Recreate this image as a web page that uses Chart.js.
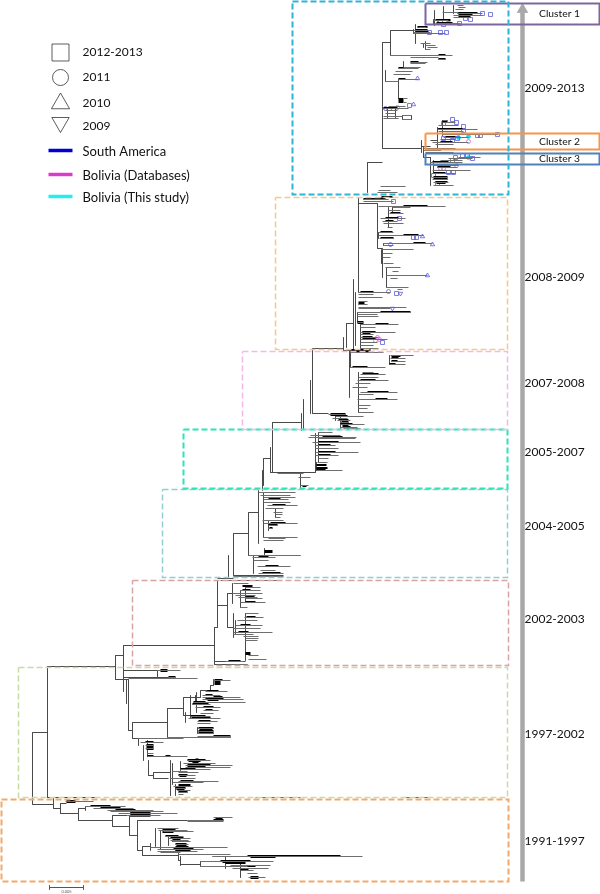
<!DOCTYPE html>
<html>
<head>
<meta charset="utf-8">
<script src="https://cdn.jsdelivr.net/npm/chart.js@4"></script>
<style>
  html, body { margin: 0; padding: 0; background: #fff; }
  canvas { display: block; }
</style>
</head>
<body>
<canvas id="treeChart" width="600" height="894"></canvas>
<script>
// period boxes: x1, y1, x2, y2
var periodNames = ['2009-2013', '2008-2009', '2007-2008', '2005-2007', '2004-2005', '2002-2003', '1997-2002', '1991-1997'];
var periodBoxes = [[292,1,508,194],[275,197,507,349],[242,351,507,429],[183,429,507,488],[162,489,507,577],[132,580,508,665],[18,667,507,797],[1,799,508,881]];
var periodLabelY = [88, 277, 383, 452, 526, 619, 734, 841];
var periodColors = ['#2fb4d6', '#f6ca84', '#f4b8ea', '#2fe3b4', '#93cdd3', '#d9a3a3', '#c8dca6', '#f2aa6c'];

var clusterNames = ['Cluster 1', 'Cluster 2', 'Cluster 3'];
var clusterBoxes = [[425,3,599,24],[425,133,599,149],[425,153,599,164]];
var clusterColors = ['#8064a2', '#f79646', '#4f81bd'];

var legendYears = ['2012-2013', '2011', '2010', '2009'];
var legendYearY = [52, 77, 103, 126];
var legendMarkY = [52, 77, 103, 122];
var legendRegions = ['South America', 'Bolivia (Databases)', 'Bolivia (This study)'];
var legendRegionY = [150, 174, 196];
var legendRegionColors = ['#0000d0', '#d93cc8', '#20f0f0'];

// tree stems, horizontal [y,x1,x2] and vertical [x,y1,y2]
var stemsH = [
  [732,32,47],[804,32,53],[808,53,60],[803,60,66],[813,60,78],[808,78,85],[820,78,112],[815,112,127],[826,112,129],[816,129,150],
  [835,129,137],[820,137,187],[850,137,142],[846,142,150],[855,142,178],[860,178,180],[856,212,247],[864,180,200],[666,47,115],[655,115,123],
  [679,115,128],[645,123,214],[670,123,157],[677,123,168],[730,128,132],[722,132,167],[708,167,183],[697,183,190],[715,183,190],[690,200,210],
  [685,210,213],[697,190,200],[738,132,138],[775,148,153],[772,153,170],[778,153,168],[627,214,217],[605,217,227],[593,227,232],[627,227,233],
  [664,214,247],[661,214,245],[578,217,233],[575,233,283],[533,233,248],[512,248,258],[555,248,300],[422,272,301],[472,270,315],[458,263,270],
  [413,312,328],[348,312,343],[323,346,353],[350,343,354],[203,358,377],[248,377,382],[162,367,382],[42,382,390],[30,390,413],[148,382,421],
  [157,423,430],[797,47,95],[146,421,430],[140,430,437],[128,437,442]
];
var stemsV = [
  [32,732,804],[47,666,797],[53,798,808],[60,803,813],[78,808,820],[85,806,810],[112,815,826],[129,816,835],[137,820,850],[142,846,855],
  [150,843,850],[155,828,846],[178,853,860],[180,856,865],[200,861,866],[115,655,679],[123,645,691],[126,679,703],[128,679,730],[132,722,738],
  [167,708,737],[183,697,715],[190,695,718],[195,695,702],[200,690,697],[210,685,690],[213,679,685],[157,670,677],[138,738,745],[143,745,760],
  [148,760,775],[153,772,778],[170,760,795],[214,627,664],[217,580,627],[227,593,627],[232,583,603],[233,613,637],[245,640,660],[228,555,578],
  [233,533,575],[248,512,555],[258,490,543],[262,470,490],[263,458,485],[270,447,472],[272,422,472],[315,433,472],[301,413,430],[303,399,428],
  [310,380,413],[312,348,413],[343,337,350],[346,323,347],[349,350,397],[353,279,350],[355,292,345],[358,197,292],[377,203,248],[382,248,277],
  [367,162,192],[382,42,148],[390,30,55],[415,24,43],[423,147,157],[430,157,185],[437,127,147],[398,79,98],[385,70,81],[434,10,25],
  [443,6,18],[425,41,49],[389,355,364],[300,473,487],[421,140,152],[433,160,173],[442,120,135],
  [160,830,849],[168,835,845],[225,856,868],[240,862,877],
  [196,692,712],[185,712,722],[197,727,733],[147,740,756],[172,763,784],[175,784,795],[180,761,770],
  [245,587,602],[240,590,607],[235,620,634],[245,613,640],
  [263,492,537],[268,520,530],[275,508,517],[253,555,573],[264,548,556],
  [318,432,462],[316,462,470],
  [358,372,412],[350,352,367],[340,416,428],[335,414,420],
  [357,312,322],[360,324,348],
  [378,232,238],[383,243,245],[381,249,263],[386,267,287],[392,206,213],[388,207,227],
  [453,5,13],[443,12,19],[433,19,24],[413,29,33],[423,43,47],[403,61,67],[387,108,118],[395,106,118],[402,115,119],[411,115,119]
];

// thin tips, gray [y,x1,x2]
var tipsThin = [
  // 1991-1997
  [801,65,93],[806,85,125],[808,93,133],[810,107,153],[811,110,163],[813,118,177],[815,127,160],[817,213,232],[820,187,223],[821,187,223],
  [828,157,178],[830,158,187],[831,163,193],[836,165,183],[838,168,190],[840,170,188],[841,172,190],[844,175,188],[847,150,227],[849,157,203],
  [851,157,197],[852,160,180],[854,178,230],[856,212,362],[861,200,273],[866,200,247],[865,230,270],[868,232,268],[870,240,253],[873,247,257],[877,248,265],
  // 1997-2002
  [670,157,180],[677,168,175],[678,128,197],[680,213,230],[691,205,227],[695,202,220],[697,202,240],[699,202,243],[702,193,245],[704,192,210],
  [707,195,220],[710,203,218],[713,200,213],[716,190,210],[718,188,220],[721,197,217],[723,197,210],[728,198,213],[731,198,213],[733,198,213],
  [736,197,230],[737,167,230],[738,138,183],[742,140,163],[745,145,153],[748,145,153],[753,147,153],[756,147,187],[758,195,198],[760,187,210],
  [763,183,215],[765,185,232],[767,185,230],[769,180,210],[771,172,187],[772,178,198],[775,178,195],[778,170,195],[781,178,218],[782,172,203],
  [786,173,192],[788,175,185],[790,177,190],[792,178,187],[794,178,183],[797,255,300],[797,405,430],
  // 2002-2003
  [580,220,278],[583,233,248],[587,245,260],[590,240,260],[593,232,262],[595,235,255],[597,238,257],[598,245,262],[602,240,265],[607,240,247],
  [613,245,258],[617,244,263],[620,237,257],[625,235,262],[628,233,260],[632,233,272],[634,233,253],[636,243,258],[638,245,258],[640,245,257],
  [655,248,258],[659,248,266],[661,225,243],[664,230,247],
  // 2004-2005
  [492,258,295],[495,260,290],[497,263,295],[499,263,288],[502,263,290],[505,267,297],[508,265,283],[512,273,282],[514,275,282],[517,275,280],
  [520,262,283],[523,263,297],[525,268,277],[528,268,272],[537,263,297],[538,268,285],[540,263,283],[555,248,300],[557,252,275],[560,253,268],
  [566,257,290],[570,260,275],[573,258,283],[576,233,283],
  // 2005-2007
  [432,318,332],[435,310,340],[437,308,356],[438,318,355],[442,312,360],[445,315,335],[448,315,338],[452,315,358],[455,315,338],[458,318,328],
  [462,317,327],[470,316,342],[473,277,303],[477,298,310],[485,300,308],
  // 2007-2008
  [352,350,383],[355,390,413],[358,390,405],[361,391,405],[364,389,405],[367,350,385],[372,362,373],[374,360,385],[377,358,378],[380,357,388],
  [383,355,370],[387,352,367],[392,360,397],[394,358,373],[399,357,397],[405,358,370],[408,358,367],[412,358,373],[414,328,345],[416,335,363],
  [418,332,347],[420,337,350],[422,340,348],[424,340,364],[427,340,357],[428,343,360],
  // 2008-2009 lower
  [292,358,390],[294,358,373],[297,358,382],[301,358,367],[304,358,367],[307,358,406],[308,358,390],[312,357,410],[314,357,377],[316,357,378],
  [322,357,363],[324,360,398],[327,360,375],[332,360,395],[334,360,373],[337,360,378],[339,360,387],[342,360,377],[345,360,373],[348,360,378],
  // 2008-2009 upper
  [199,363,388],[201,363,393],[206,378,445],[207,392,410],[210,388,400],[213,389,403],[218,380,405],[221,382,397],[223,383,403],[227,387,392],
  [232,378,393],[235,378,423],[238,379,393],[243,383,432],[245,383,393],[249,381,413],[253,382,392],[257,382,390],[263,383,393],[267,385,400],
  [271,392,398],[275,386,427],[278,390,397],[287,386,408],[289,397,402],
  // 2009-2013
  [186,380,405],[190,378,390],[192,377,397],[197,378,393],[157,458,480],[158,448,472],[160,440,462],[162,430,462],[165,433,458],[167,437,457],
  [170,432,470],[173,432,455],[177,432,447],[179,432,447],[182,433,448],[185,433,453],[120,442,447],[122,442,455],[125,438,458],[129,438,477],
  [131,438,463],[134,442,498],[137,443,468],[139,440,455],[142,432,468],[144,435,453],[148,423,455],[150,423,440],[152,425,453],
  [5,457,463],[7,458,465],[9,455,463],[12,442,458],[13,457,482],[15,453,482],[17,453,470],[20,433,448],[23,435,460],[27,418,426],
  [30,413,428],[32,413,430],[33,413,445],[43,420,430],[45,425,435],[47,427,437],[49,425,430],[55,390,452],[57,410,438],[59,438,445],
  [62,410,427],[63,410,425],[67,403,420],[68,398,418],[71,395,412],[74,393,410],[79,398,418],[81,385,398],[106,388,405],[108,383,408],
  [110,385,397],[113,385,395],[115,402,411],[116,383,402],[119,402,411],[118,383,398],[98,403,407],[102,403,406]
];

// black inner part of the tips [y,x1,x2]
var tipsBlack = [
  [806,90,110],[808,100,120],[810,115,135],[813,130,150],[815,130,150],[820,213,223],[818,215,222],[830,162,175],[832,162,173],[836,165,178],[838,170,183],
  [841,172,185],[844,175,185],[847,175,188],[849,173,193],[851,175,190],[856,247,340],[861,220,250],[863,225,245],[866,232,255],[870,240,248],
  [677,168,175],[680,214,222],[691,207,218],[695,205,212],[697,213,222],[699,205,223],[702,193,205],[704,192,208],[707,203,213],[710,205,212],
  [716,190,205],[718,195,210],[721,198,210],[728,198,213],[731,198,213],[733,198,213],[736,213,230],[737,213,230],[742,145,153],[756,147,153],
  [756,165,170],[760,187,205],[763,192,198],[765,187,210],[767,187,205],[769,180,195],[775,178,187],[781,180,193],[782,185,200],[788,175,185],[792,178,187],
  [586,242,252],[590,242,250],[597,245,254],[602,245,255],[617,246,255],[625,240,250],[632,238,248],[661,228,240],
  [505,272,285],[499,268,280],[523,270,285],[525,268,277],[528,269,272],[557,258,268],[566,265,278],[573,262,280],
  [437,322,342],[442,318,338],[445,318,330],[452,318,335],[455,318,330],[465,316,326],[468,316,327],[470,316,325],[486,302,306],
  [352,350,372],[356,391,400],[358,391,398],[361,391,397],[364,389,395],[367,352,367],[374,362,378],[380,360,375],[392,367,388],[399,375,387],
  [416,335,347],[420,338,348],[424,340,352],[427,342,350],
  [292,360,373],[308,362,382],[312,380,410],[324,375,388],[332,362,375],[337,362,372],[339,362,375],
  [206,403,427],[213,390,400],[218,385,398],[221,385,393],[232,380,392],[235,403,418],[238,380,393],[243,413,425],
  [199,363,385],[197,381,392],[162,432,448],[165,435,450],[167,437,450],[173,433,445],[177,433,447],[179,433,447],[182,435,447],
  [129,438,462],[134,455,478],[137,445,455],[142,440,452],[150,425,440],
  [13,457,477],[15,458,472],[17,458,470],[20,435,450],[23,436,452],[27,417,427],[30,415,427],[32,415,428],[55,438,445],[59,438,445],[68,398,407],[79,398,405],[108,383,397],[62,410,418]
];

// wedge bases, heaviest black [y,x1,x2]
var tipsHeavy = [
  [801,66,75],[813,130,142],[840,172,180],[844,176,186],[849,175,188],[856,250,275],[861,222,240],[877,250,258],
  [670,160,167],[681,214,220],[683,214,220],[699,207,218],[702,194,203],[716,191,202],[728,199,212],[732,199,212],[745,146,153],[748,146,153],
  [760,188,200],[766,188,203],[775,179,186],[781,181,190],[785,178,190],[788,176,184],
  [653,245,250],[551,264,272],[99,398,403],[101,398,403],
  [121,442,447],[178,434,446],[182,436,445],[303,358,364],[332,362,370],[322,357,363],[424,342,348],[422,341,348],[414,330,345],[350,350,370]
];

// sample markers [x,y]
var squares = [[482,13],[490,14],[470,19],[465,18],[459,23],[443,24],[440,22],[435,22],[429,32],[440,32],[446,32],[409,105],[393,108],[452,119],[456,122],[463,126],[463,130],[497,134],[480,135],[477,135],[457,138],[452,140],[443,138],[443,123],[472,158],[467,155],[462,155],[455,157],[452,160],[448,172],[453,172],[437,183],[433,175],[393,201],[413,237],[416,237],[399,218],[396,293],[382,342]];
var circlesBlue = [[388,291],[390,244],[385,108]];
var trianglesUp = [[417,78],[413,104],[422,236],[432,244],[427,275]];
var trianglesDown = [[400,293],[392,308]];
var circlesCyan = [[448,22],[468,136],[458,137],[468,157]];
var circlesMagenta = [[397,107],[468,141],[456,165],[440,168],[443,168],[377,337],[375,340],[379,339]];

var arrowX = [522, 522];
var arrowY = [881, 12];
var scaleBarX = [49, 83];
var scaleBarY = 887;
var scaleBarLabel = '0.005';

function hLines(rows) {
  var pts = [];
  rows.forEach(function (r) {
    pts.push({ x: r[1], y: r[0] }, { x: r[2], y: r[0] }, { x: null, y: null });
  });
  return pts;
}
function vLines(rows) {
  var pts = [];
  rows.forEach(function (r) {
    pts.push({ x: r[0], y: r[1] }, { x: r[0], y: r[2] }, { x: null, y: null });
  });
  return pts;
}
function boxLine(b) {
  return [{ x: b[0], y: b[1] }, { x: b[2], y: b[1] }, { x: b[2], y: b[3] }, { x: b[0], y: b[3] }, { x: b[0], y: b[1] }];
}
function toPoints(rows) {
  return rows.map(function (p) { return { x: p[0], y: p[1] }; });
}
function lineSet(data, color, width, dash) {
  return { data: data, showLine: true, spanGaps: false, borderColor: color, borderWidth: width, borderDash: dash || [], pointRadius: 0, borderCapStyle: 'butt' };
}
function markSet(rows, style, radius, color, fill, rotation) {
  return { data: toPoints(rows), showLine: false, pointStyle: style, pointRadius: radius, pointBorderColor: color, pointBackgroundColor: fill, pointBorderWidth: 0.8, pointRotation: rotation || 0 };
}

var datasets = [];
periodBoxes.forEach(function (b, i) {
  datasets.push(lineSet(boxLine(b), periodColors[i], i == 0 || i == 3 || i == 7 ? 2 : 1.5, [6, 3]));
});
clusterBoxes.forEach(function (b, i) {
  datasets.push(lineSet(boxLine(b), clusterColors[i], 2));
});
datasets.push(lineSet(hLines(tipsThin), '#6e6e6e', 1));
// 2px rows sit on whole pixels, so they go on the second y scale
var blackRows = lineSet(hLines(tipsBlack), '#000000', 2);
blackRows.yAxisID = 'yWhole';
datasets.push(blackRows);
datasets.push(lineSet(hLines(tipsHeavy), '#000000', 3));
datasets.push(lineSet(hLines(stemsH), '#4a4a4a', 1));
datasets.push(lineSet(vLines(stemsV), '#4a4a4a', 1));
datasets.push(markSet(squares, 'rect', 2.8, '#5a5ad8', 'rgba(255,255,255,0)'));
datasets.push(markSet(circlesBlue, 'circle', 2, '#5a5ad8', 'rgba(255,255,255,0)'));
datasets.push(markSet(trianglesUp, 'triangle', 2.5, '#5a5ad8', 'rgba(255,255,255,0)'));
datasets.push(markSet(trianglesDown, 'triangle', 2.5, '#5a5ad8', 'rgba(255,255,255,0)', 180));
datasets.push(markSet(circlesCyan, 'circle', 2, '#20d8e8', '#20d8e8'));
datasets.push(markSet(circlesMagenta, 'circle', 2, '#e060d8', 'rgba(255,255,255,0)'));

// time arrow
datasets.push(lineSet([{ x: arrowX[0], y: arrowY[0] }, { x: arrowX[1], y: arrowY[1] }], '#a8a8a8', 4.5));
datasets.push(markSet([[arrowX[1], 9]], 'triangle', 6, '#a8a8a8', '#a8a8a8'));

// scale bar
datasets.push(lineSet([{ x: scaleBarX[0], y: scaleBarY }, { x: scaleBarX[1], y: scaleBarY }], '#555555', 1));
datasets.push(lineSet(vLines([[scaleBarX[0], 885, 889], [scaleBarX[1], 885, 889]]), '#555555', 1));

// legend marks
datasets.push(markSet([[60, legendMarkY[0]]], 'rect', 12, '#333333', 'rgba(255,255,255,0)'));
datasets.push(markSet([[60, legendMarkY[1]]], 'circle', 8, '#333333', 'rgba(255,255,255,0)'));
datasets.push(markSet([[60, legendMarkY[2]]], 'triangle', 10.5, '#333333', 'rgba(255,255,255,0)'));
datasets.push(markSet([[60, legendMarkY[3]]], 'triangle', 10, '#333333', 'rgba(255,255,255,0)', 180));
legendRegionY.forEach(function (y, i) {
  datasets.push(lineSet([{ x: 48, y: y }, { x: 72, y: y }], legendRegionColors[i], 3.5));
});

var textPlugin = {
  id: 'textPlugin',
  afterDatasetsDraw: function (chart) {
    var ctx = chart.ctx;
    var sx = chart.scales.x;
    var sy = chart.scales.y;
    function put(str, x, y, font, align, color) {
      ctx.font = font;
      ctx.textAlign = align;
      ctx.textBaseline = 'middle';
      ctx.fillStyle = color;
      ctx.fillText(str, sx.getPixelForValue(x), sy.getPixelForValue(y));
    }
    ctx.save();
    periodNames.forEach(function (s, i) {
      put(s, 524, periodLabelY[i], '12px Lato', 'left', '#111111');
    });
    clusterNames.forEach(function (s, i) {
      var b = clusterBoxes[i];
      put(s, 559, (b[1] + b[3]) / 2, '10.3px Lato', 'center', '#111111');
    });
    legendYears.forEach(function (s, i) {
      put(s, 82, legendYearY[i], '12px Lato', 'left', '#111111');
    });
    legendRegions.forEach(function (s, i) {
      put(s, 82, legendRegionY[i] + 1, '13px Lato', 'left', '#111111');
    });
    put(scaleBarLabel, 66, 891, '4px Lato', 'center', '#555555');
    ctx.restore();
  }
};

new Chart(document.getElementById('treeChart'), {
  type: 'scatter',
  data: { datasets: datasets },
  plugins: [textPlugin],
  options: {
    responsive: false,
    animation: false,
    events: [],
    layout: { padding: 0, autoPadding: false },
    plugins: { legend: { display: false }, tooltip: { enabled: false } },
    scales: {
      x: { type: 'linear', min: -0.5, max: 599.5, display: false },
      y: { type: 'linear', min: -0.5, max: 893.5, reverse: true, display: false },
      yWhole: { type: 'linear', min: 0, max: 894, reverse: true, display: false }
    }
  }
});
</script>
</body>
</html>
